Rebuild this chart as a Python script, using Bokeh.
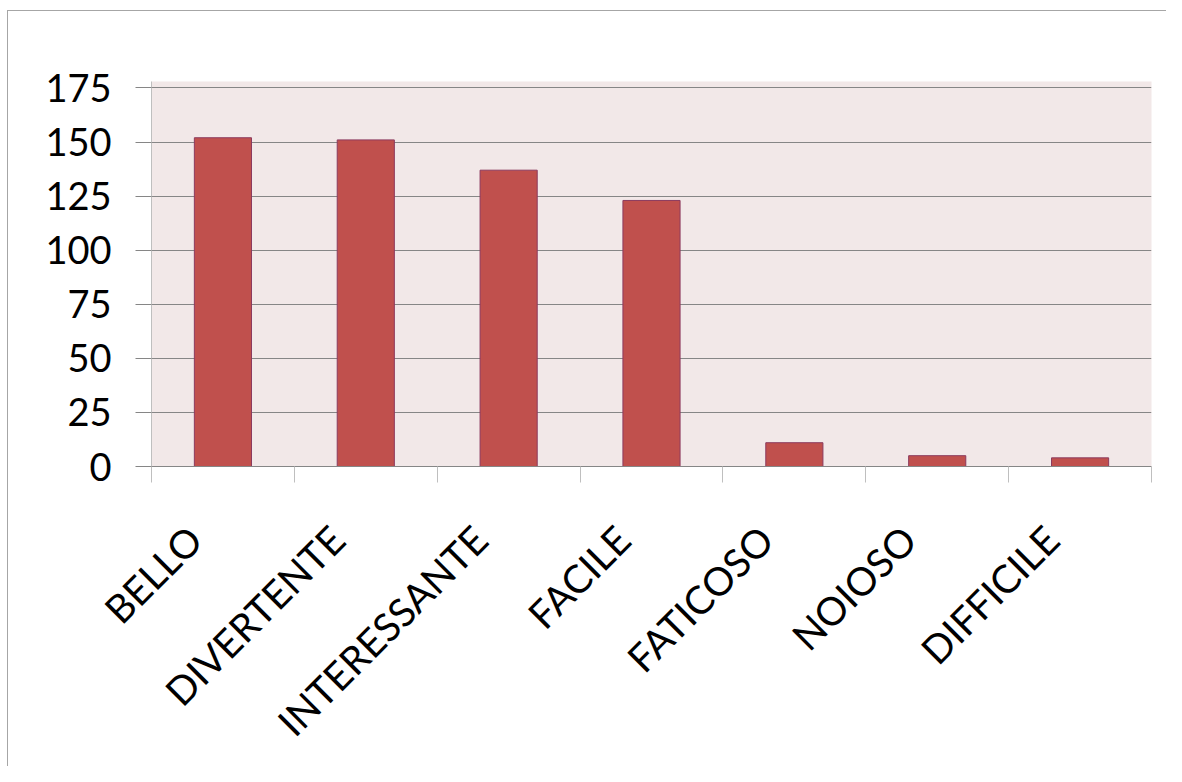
import math
from bokeh.plotting import figure
from bokeh.models import Range1d, FixedTicker, ColumnDataSource
from bokeh.embed import file_html
from bokeh.resources import INLINE

categories = ["BELLO", "DIVERTENTE", "INTERESSANTE", "FACILE", "FATICOSO", "NOIOSO", "DIFFICILE"]
values = [152, 151, 137, 123, 11, 5, 4]
y_ticks = [0, 25, 50, 75, 100, 125, 150, 175]

positions = [i + 0.5 for i in range(len(categories))]
label_positions = [x - 0.2 for x in positions]
source = ColumnDataSource(dict(x=positions, top=values, cat=categories))

p = figure(width=1166, height=766, output_backend="svg", toolbar_location=None,
           x_range=Range1d(0, len(categories)), y_range=Range1d(0, 178),
           min_border_left=151, min_border_right=15, min_border_top=81, min_border_bottom=300)
frame_line = "linear-gradient(#A6A6A6, #A6A6A6)"
p.styles = {
    "background": f"{frame_line} 7px 10px / 1px 100% no-repeat, "
                  f"{frame_line} 7px 10px / 100% 1px no-repeat, white"
}

p.background_fill_color = "#F2E8E8"
p.border_fill_color = None
p.outline_line_color = None

p.vbar(x="x", top="top", bottom=0, width=0.4, source=source,
       fill_color="#C0504D", line_color="#8C3A5E", line_width=1)

# grid
p.xgrid.grid_line_color = None
p.ygrid.ticker = FixedTicker(ticks=y_ticks)
p.ygrid.grid_line_color = "#868686"
p.ygrid.grid_line_width = 1

# y axis
p.yaxis.ticker = FixedTicker(ticks=y_ticks)
p.yaxis.axis_line_color = "#BFBFBF"
p.yaxis.major_tick_line_color = "#868686"
p.yaxis.major_tick_out = 16
p.yaxis.major_tick_in = 0
p.yaxis.minor_tick_line_color = None
p.yaxis.major_label_text_font = "Lato"
p.yaxis.major_label_text_font_size = "38px"
p.yaxis.major_label_text_color = "black"
p.yaxis.major_label_standoff = 24

# x axis
p.xaxis.ticker = FixedTicker(ticks=label_positions, minor_ticks=list(range(len(categories) + 1)))
p.xaxis.major_label_overrides = {pos: c for pos, c in zip(label_positions, categories)}
p.xaxis.axis_line_color = "#868686"
p.xaxis.major_tick_line_color = None
p.xaxis.major_tick_out = 0
p.xaxis.major_tick_in = 0
p.xaxis.minor_tick_line_color = "#BFBFBF"
p.xaxis.minor_tick_out = 16
p.xaxis.minor_tick_in = 0
p.xaxis.major_label_orientation = math.pi / 4
p.xaxis.major_label_text_font = "Lato"
p.xaxis.major_label_text_font_size = "39px"
p.xaxis.major_label_text_color = "black"
p.xaxis.major_label_standoff = 50

open("out.html", "w").write(file_html(p, INLINE))
